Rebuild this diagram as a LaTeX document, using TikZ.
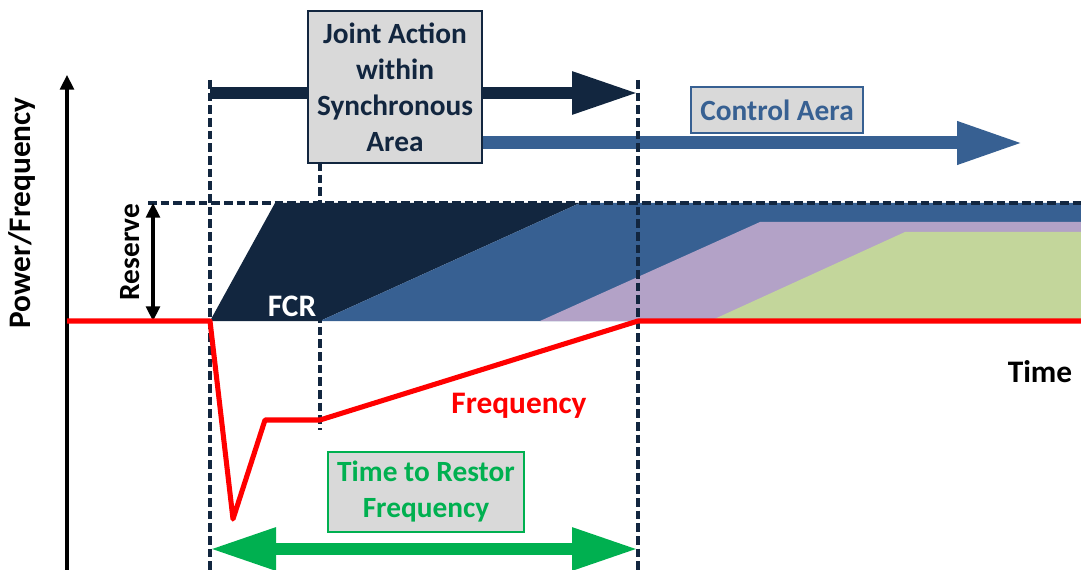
\documentclass[tikz,border=0pt]{standalone}
\usepackage{fontspec}
\setmainfont{Carlito}
\usetikzlibrary{arrows.meta,positioning}

\definecolor{navy}{HTML}{12263F}
\definecolor{ctrlblue}{HTML}{376092}
\definecolor{lilac}{HTML}{B3A2C7}
\definecolor{sage}{HTML}{C3D69B}
\definecolor{restgreen}{HTML}{00B050}
\definecolor{boxgray}{HTML}{D9D9D9}

\begin{document}
\begin{tikzpicture}[x=0.75pt,y=-0.75pt,
            font=\bfseries\fontsize{22}{27}\selectfont,
            big/.style={font=\bfseries\fontsize{23.5}{28}\selectfont},
            infobox/.style={draw,line width=1.5pt,fill=boxgray,align=center,inner sep=0pt},
            markline/.style={navy,line width=2.8pt,dash pattern=on 6.5pt off 3pt},
            axis/.style={line width=2.3pt,-{Triangle[length=11pt,width=10.5pt]}},
            fat/.style={line width=9pt,-{Triangle[length=49.5pt,width=30pt]}},
            freq/.style={red,line width=3.8pt,line join=round}
          ]
          \useasboundingbox (0,0) rectangle (1081,570);

          %reserve bands
          \fill[navy] (210,321) -- (275,203) -- (580,203) -- (320,321) -- cycle;
          \fill[ctrlblue] (320,321) -- (580,203) -- (1081,203) -- (1081,321) -- cycle;
          \fill[lilac] (540,321) -- (760,222) -- (1081,222) -- (1081,321) -- cycle;
          \fill[sage] (710,321) -- (905,232) -- (1081,232) -- (1081,321) -- cycle;

          %time marks
          \coordinate (s0) at (210,93);
          \coordinate (s1) at (638,93);
          \coordinate (c0) at (470,143);
          \coordinate (c1) at (1023,143);
          \coordinate (g0) at (210,549);
          \coordinate (g1) at (638,549);

          %arrows
          \draw[fat,navy] (s0) -- (s1);
          \draw[fat,ctrlblue,line width=9.75pt] (c0) -- (c1);
          \draw[restgreen,line width=9pt,{Triangle[length=49.5pt,width=30pt]}-{Triangle[length=49.5pt,width=30pt]}] (g0) -- (g1);

          %boxes
          \node[infobox,draw=navy,text=navy,minimum width=130.5pt,minimum height=114pt] (jab) at (395,87) {Joint Action\\within\\Synchronous\\Area};
          \node[infobox,draw=ctrlblue,text=ctrlblue,minimum width=129pt,minimum height=34pt] (cab) at (777,110) {Control Aera};
          \node[infobox,draw=restgreen,text=restgreen,minimum width=147pt,minimum height=60pt] (trb) at (426,492) {Time to Restor\\Frequency};

          %dashed guides
          \draw[markline] (148,203) -- (1081,203);
          \draw[markline] (210,80) -- (210,570);
          \draw[markline] (320,162) -- (320,430);
          \draw[markline] (638,80) -- (638,570);

          %axes
          \draw[axis] (67,570) -- (67,75);
          \draw[axis,{Triangle[length=11pt,width=10.5pt]}-{Triangle[length=11pt,width=10.5pt]}] (153,321) -- (153,203);

          %frequency
          \coordinate (f0) at (67,321);
          \coordinate (f1) at (210,321);
          \coordinate (f2) at (233,519);
          \coordinate (f3) at (265,420);
          \coordinate (f4) at (320,420);
          \coordinate (f5) at (638,321);
          \coordinate (f6) at (1081,321);
          \draw[freq] (f0) -- (f1) -- (f2) -- (f3) -- (f4) -- (f5) -- (f6);

          %labels
          \node[big,rotate=90] (pf) at (22,213) {Power/Frequency};
          \node[rotate=90] (res) at (130,252) {Reserve};
          \node[big,text=white] (fcr) at (292,306) {FCR};
          \node[big,text=red] (fq) at (519,406) {Frequency};
          \node[big] (tm) at (1040,372) {Time};
      \end{tikzpicture}
\end{document}
